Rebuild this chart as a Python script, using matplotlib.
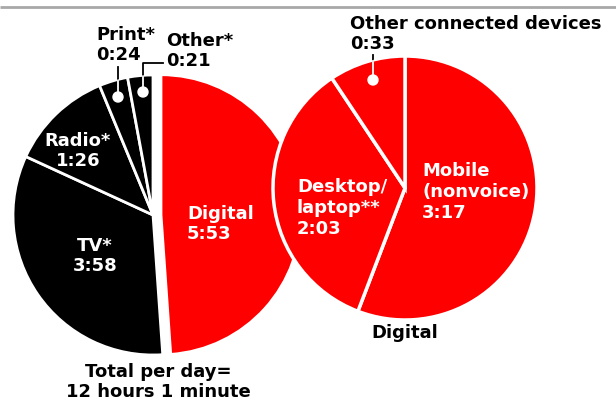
import matplotlib.pyplot as plt
from matplotlib.patches import Circle

W, H = 616, 405

# minutes per day
left_labels = ["Digital", "TV*", "Radio*", "Print*", "Other*"]
left_minutes = [353, 238, 86, 24, 21]
left_colors = ["#ff0000", "black", "black", "black", "black"]

right_labels = ["Mobile\n(nonvoice)", "Desktop/\nlaptop**", "Other connected devices"]
right_minutes = [197, 123, 33]
right_colors = ["#ff0000", "#ff0000", "#ff0000"]

total_text = "Total per day=\n12 hours 1 minute"
right_title = "Digital"


def hm(m):
    return f"{m // 60}:{m % 60:02d}"


plt.rcParams["font.family"] = ["DejaVu Sans"]
plt.rcParams["font.weight"] = "bold"

fig = plt.figure(figsize=(W / 100, H / 100), dpi=100)
ax = fig.add_axes([0, 0, 1, 1])

# pie a sinistra: tutti i media (explode in unità dati = pixel)
lwedges, _ = ax.pie(
    left_minutes, colors=left_colors, startangle=90, counterclock=False,
    center=(153, H - 215), radius=140, explode=[8, 0, 0, 0, 0],
    wedgeprops=dict(edgecolor="white", linewidth=2),
)
# pie a destra: dettaglio digitale
rwedges, _ = ax.pie(
    right_minutes, colors=right_colors, startangle=90, counterclock=False,
    center=(405, H - 188), radius=132,
    wedgeprops=dict(edgecolor="white", linewidth=2.5),
)

ax.set_xlim(0, W)
ax.set_ylim(0, H)
ax.set_aspect("equal")
ax.axis("off")

ax.plot([0, W], [H - 7, H - 7], color="#a8a8a8", lw=2, solid_capstyle="butt")

fs = 13
white = dict(color="white", fontsize=fs, fontweight="bold")
black = dict(color="black", fontsize=fs, fontweight="bold")

# etichette dentro le fette
ax.text(187, H - 224, f"{left_labels[0]}\n{hm(left_minutes[0])}", ha="left", va="center", **white)
ax.text(95, H - 256, f"{left_labels[1]}\n{hm(left_minutes[1])}", ha="center", va="center", **white)
ax.text(78, H - 151, f"{left_labels[2]}\n{hm(left_minutes[2])}", ha="center", va="center", **white)
ax.text(422, H - 192, f"{right_labels[0]}\n{hm(right_minutes[0])}", ha="left", va="center", **white)
ax.text(297, H - 208, f"{right_labels[1]}\n{hm(right_minutes[1])}", ha="left", va="center", **white)

# etichette esterne
ax.text(96, H - 45, f"{left_labels[3]}\n{hm(left_minutes[3])}", ha="left", va="center", **black)
ax.text(166, H - 51, f"{left_labels[4]}\n{hm(left_minutes[4])}", ha="left", va="center", **black)
ax.text(350, H - 34, f"{right_labels[2]}\n{hm(right_minutes[2])}", ha="left", va="center", **black)
ax.text(158, H - 382, total_text, ha="center", va="center", **black)
ax.text(405, H - 333, right_title, ha="center", va="center", **black)

# linee guida con pallino bianco
leaders = [
    (lwedges[3], [118, 118], [67, 97]),
    (lwedges[4], [163, 143, 143], [63, 63, 92]),
    (rwedges[2], [373, 373], [55, 80]),
]
for wedge, xs, ys in leaders:
    ys = [H - y for y in ys]
    ax.plot(xs, ys, color="black", lw=1.3, zorder=5)
    inner, = ax.plot(xs, ys, color="white", lw=1.3, zorder=6)
    inner.set_clip_path(wedge)
    ax.add_patch(Circle((xs[-1], ys[-1]), 5, color="white", zorder=7))

fig.savefig("out.png", dpi=100)
